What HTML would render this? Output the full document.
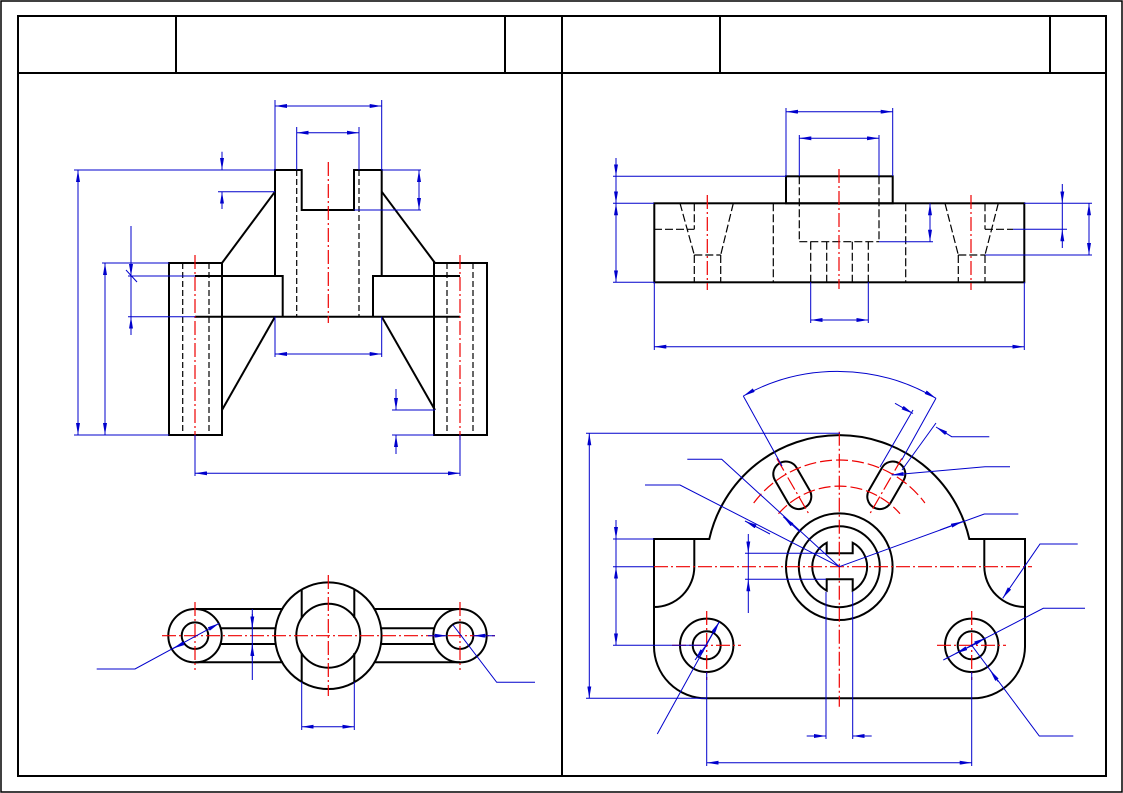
<!DOCTYPE html>
<html><head><meta charset="utf-8"><style>html,body{margin:0;padding:0;background:#fff}svg{display:block}</style></head><body>
<svg width="1123" height="793" viewBox="0 0 1123 793" xmlns="http://www.w3.org/2000/svg">
<defs>
<marker id="a" viewBox="0 0 12 4" refX="12" refY="2" markerWidth="12" markerHeight="4" markerUnits="userSpaceOnUse" orient="auto-start-reverse"><path d="M0,0 L12,2 L0,4 z" fill="#0000cc"/></marker>
</defs>
<rect x="1" y="1" width="1121" height="791" fill="none" stroke="#000" stroke-width="1.5"/>
<g stroke="#000" stroke-width="2" fill="none">
<rect x="18" y="16" width="1088" height="760"/>
<line x1="18" y1="73" x2="1106" y2="73"/>
<line x1="176" y1="16" x2="176" y2="73"/><line x1="505" y1="16" x2="505" y2="73"/>
<line x1="562" y1="16" x2="562" y2="776"/><line x1="720" y1="16" x2="720" y2="73"/><line x1="1050" y1="16" x2="1050" y2="73"/>
</g>

<g stroke="#000" stroke-width="2" fill="none">
<polyline points="275,276 275,170 301.7,170 301.7,210 354,210 354,170 381.7,170 381.7,276"/>
<polyline points="195,276 282.7,276 282.7,316.7"/>
<polyline points="460,276 373,276 373,316.7"/>
<line x1="195" y1="316.7" x2="460" y2="316.7"/>
<rect x="169" y="263" width="53" height="172"/>
<rect x="434" y="263" width="53" height="172"/>
<line x1="275" y1="191.7" x2="222" y2="263"/><line x1="381.7" y1="191.7" x2="435" y2="263"/>
<line x1="275" y1="316.7" x2="222" y2="410"/><line x1="381.7" y1="316.7" x2="435" y2="410"/>
</g>
<g stroke="#000" stroke-width="1.2" stroke-dasharray="6,3" fill="none">
<line x1="296.7" y1="170" x2="296.7" y2="316.7"/><line x1="359" y1="170" x2="359" y2="316.7"/>
<line x1="182.7" y1="263" x2="182.7" y2="435"/><line x1="209" y1="263" x2="209" y2="435"/>
<line x1="447" y1="263" x2="447" y2="435"/><line x1="473" y1="263" x2="473" y2="435"/>
</g>
<g stroke="#e00" stroke-width="1.2" stroke-dasharray="14,3,2,3" fill="none">
<line x1="328.3" y1="162" x2="328.3" y2="323"/><line x1="195" y1="255" x2="195" y2="440"/><line x1="460" y1="255" x2="460" y2="440"/>
</g>
<g stroke="#0000cc" stroke-width="1" fill="none">
<line x1="275" y1="100" x2="275" y2="170"/><line x1="381.7" y1="100" x2="381.7" y2="170"/>
<line x1="275" y1="106" x2="381.7" y2="106" marker-start="url(#a)" marker-end="url(#a)"/>
<line x1="296.7" y1="127" x2="296.7" y2="170"/><line x1="359" y1="127" x2="359" y2="170"/>
<line x1="296.7" y1="132.7" x2="359" y2="132.7" marker-start="url(#a)" marker-end="url(#a)"/>
<line x1="74" y1="170" x2="275" y2="170"/><line x1="74" y1="435" x2="169" y2="435"/>
<line x1="78" y1="170" x2="78" y2="435" marker-start="url(#a)" marker-end="url(#a)"/>
<line x1="102" y1="263" x2="169" y2="263"/>
<line x1="105" y1="263" x2="105" y2="435" marker-start="url(#a)" marker-end="url(#a)"/>
<line x1="128" y1="276" x2="195" y2="276"/><line x1="128" y1="316.7" x2="195" y2="316.7"/>
<line x1="131" y1="226" x2="131" y2="276" marker-end="url(#a)"/><line x1="131" y1="335" x2="131" y2="316.7" marker-end="url(#a)"/>
<line x1="131" y1="276" x2="131" y2="316.7"/><line x1="126" y1="270" x2="137" y2="282"/>
<line x1="218" y1="191.7" x2="275" y2="191.7"/>
<line x1="222" y1="151.7" x2="222" y2="170" marker-end="url(#a)"/><line x1="222" y1="209" x2="222" y2="191.7" marker-end="url(#a)"/>
<line x1="381.7" y1="170" x2="421" y2="170"/><line x1="354" y1="210" x2="421" y2="210"/>
<line x1="419" y1="170" x2="419" y2="210" marker-start="url(#a)" marker-end="url(#a)"/>
<line x1="275" y1="316.7" x2="275" y2="357"/><line x1="381.7" y1="316.7" x2="381.7" y2="357"/>
<line x1="275" y1="354" x2="381.7" y2="354" marker-start="url(#a)" marker-end="url(#a)"/>
<line x1="195" y1="435" x2="195" y2="476"/><line x1="460" y1="435" x2="460" y2="476"/>
<line x1="195" y1="473.3" x2="460" y2="473.3" marker-start="url(#a)" marker-end="url(#a)"/>
<line x1="392" y1="410" x2="435" y2="410"/><line x1="392" y1="435" x2="434" y2="435"/>
<line x1="396" y1="389" x2="396" y2="410" marker-end="url(#a)"/><line x1="396" y1="454" x2="396" y2="435" marker-end="url(#a)"/>
</g>

<g stroke="#000" stroke-width="2" fill="none">
<circle cx="195" cy="635.7" r="26.7"/><circle cx="195" cy="635.7" r="13.3"/>
<circle cx="460" cy="635.7" r="26.7"/><circle cx="460" cy="635.7" r="13.3"/>
<circle cx="328.3" cy="635.7" r="53.3"/><circle cx="328.3" cy="635.7" r="32"/>
<line x1="195" y1="609" x2="283" y2="609"/><line x1="195" y1="662.3" x2="283" y2="662.3"/>
<line x1="374" y1="609" x2="460" y2="609"/><line x1="374" y1="662.3" x2="460" y2="662.3"/>
<line x1="221" y1="628.3" x2="275.5" y2="628.3"/><line x1="221" y1="644" x2="275.5" y2="644"/>
<line x1="381" y1="628.3" x2="434" y2="628.3"/><line x1="381" y1="644" x2="434" y2="644"/>
<line x1="301.7" y1="589.5" x2="301.7" y2="618"/><line x1="301.7" y1="653" x2="301.7" y2="681.9"/>
<line x1="354.3" y1="589.5" x2="354.3" y2="618"/><line x1="354.3" y1="653" x2="354.3" y2="681.9"/>
</g>
<g stroke="#e00" stroke-width="1.2" stroke-dasharray="14,3,2,3" fill="none">
<line x1="162" y1="635.7" x2="495" y2="635.7"/>
<line x1="195" y1="602" x2="195" y2="670"/><line x1="460" y1="602" x2="460" y2="670"/>
<line x1="328.3" y1="575" x2="328.3" y2="696"/>
</g>
<g stroke="#0000cc" stroke-width="1" fill="none">
<line x1="252.3" y1="609" x2="252.3" y2="680"/>
<line x1="252.3" y1="614" x2="252.3" y2="628.3" marker-end="url(#a)"/><line x1="252.3" y1="660" x2="252.3" y2="644" marker-end="url(#a)"/>
<line x1="301.7" y1="682" x2="301.7" y2="730"/><line x1="354.3" y1="682" x2="354.3" y2="730"/>
<line x1="301.7" y1="726.7" x2="354.3" y2="726.7" marker-start="url(#a)" marker-end="url(#a)"/>
<polyline points="96.7,669 135,669 219.3,623.3" marker-end="url(#a)"/>
<line x1="178" y1="646" x2="173" y2="648.5" marker-end="url(#a)"/>
<polyline points="535,682.3 496.7,682.3 453,625"/>
<line x1="428" y1="635.7" x2="446.7" y2="635.7" marker-end="url(#a)"/><line x1="495" y1="635.7" x2="473.3" y2="635.7" marker-end="url(#a)"/>
</g>

<g stroke="#000" stroke-width="2" fill="none">
<rect x="654.3" y="203.3" width="370" height="79"/>
<rect x="786" y="176.3" width="106.7" height="27"/>
</g>
<g stroke="#000" stroke-width="1.2" stroke-dasharray="8,3" fill="none">
<line x1="680" y1="203.3" x2="694.3" y2="255"/><line x1="733.3" y1="203.3" x2="720.7" y2="255"/>
<line x1="694.3" y1="255" x2="720.7" y2="255"/>
<line x1="694.3" y1="255" x2="694.3" y2="282"/><line x1="720.7" y1="255" x2="720.7" y2="282"/>
<line x1="694.3" y1="203.3" x2="694.3" y2="229.3"/><line x1="654" y1="229.3" x2="694.3" y2="229.3"/>
<line x1="945" y1="203.3" x2="958.3" y2="255"/><line x1="998.3" y1="203.3" x2="985" y2="255"/>
<line x1="958.3" y1="255" x2="985" y2="255"/>
<line x1="958.3" y1="255" x2="958.3" y2="282"/><line x1="985" y1="255" x2="985" y2="282"/>
<line x1="985" y1="203.3" x2="985" y2="229.3"/><line x1="985" y1="229.3" x2="1013" y2="229.3"/>
<line x1="773.3" y1="203.3" x2="773.3" y2="282"/><line x1="905.7" y1="203.3" x2="905.7" y2="282"/>
<line x1="799.3" y1="176.3" x2="799.3" y2="241.7"/><line x1="879" y1="176.3" x2="879" y2="241.7"/>
<line x1="799.3" y1="241.7" x2="879" y2="241.7"/>
<line x1="810.7" y1="241.7" x2="810.7" y2="282"/><line x1="826.7" y1="241.7" x2="826.7" y2="282"/>
<line x1="852.3" y1="241.7" x2="852.3" y2="282"/><line x1="868.3" y1="241.7" x2="868.3" y2="282"/>
</g>
<g stroke="#e00" stroke-width="1.2" stroke-dasharray="14,3,2,3" fill="none">
<line x1="839" y1="169" x2="839" y2="289"/><line x1="707.3" y1="195" x2="707.3" y2="290"/><line x1="971" y1="195" x2="971" y2="290"/>
</g>
<g stroke="#0000cc" stroke-width="1" fill="none">
<line x1="786" y1="108" x2="786" y2="176"/><line x1="892.7" y1="108" x2="892.7" y2="176"/>
<line x1="786" y1="111.7" x2="892.7" y2="111.7" marker-start="url(#a)" marker-end="url(#a)"/>
<line x1="799.3" y1="135" x2="799.3" y2="176"/><line x1="879" y1="135" x2="879" y2="176"/>
<line x1="799.3" y1="138.3" x2="879" y2="138.3" marker-start="url(#a)" marker-end="url(#a)"/>
<line x1="613" y1="176.3" x2="786" y2="176.3"/><line x1="613" y1="203.3" x2="654" y2="203.3"/><line x1="613" y1="282.3" x2="654" y2="282.3"/>
<line x1="616" y1="158" x2="616" y2="176.3" marker-end="url(#a)"/>
<line x1="616" y1="176.3" x2="616" y2="203.3" marker-end="url(#a)"/>
<line x1="616" y1="203.3" x2="616" y2="282.3" marker-start="url(#a)" marker-end="url(#a)"/>
<line x1="879" y1="241.7" x2="933" y2="241.7"/>
<line x1="930" y1="203.3" x2="930" y2="241.7" marker-start="url(#a)" marker-end="url(#a)"/>
<line x1="1024" y1="203.3" x2="1092" y2="203.3"/><line x1="1013" y1="229.3" x2="1067" y2="229.3"/><line x1="985" y1="255" x2="1092" y2="255"/>
<line x1="1062.3" y1="184" x2="1062.3" y2="203.3" marker-end="url(#a)"/><line x1="1062.3" y1="248" x2="1062.3" y2="229.3" marker-end="url(#a)"/>
<line x1="1062.3" y1="203.3" x2="1062.3" y2="229.3"/>
<line x1="1089" y1="203.3" x2="1089" y2="255" marker-start="url(#a)" marker-end="url(#a)"/>
<line x1="810.7" y1="282" x2="810.7" y2="323"/><line x1="868.3" y1="282" x2="868.3" y2="323"/>
<line x1="810.7" y1="320" x2="868.3" y2="320" marker-start="url(#a)" marker-end="url(#a)"/>
<line x1="654.3" y1="282" x2="654.3" y2="350"/><line x1="1024.3" y1="282" x2="1024.3" y2="350"/>
<line x1="654.3" y1="346.7" x2="1024.3" y2="346.7" marker-start="url(#a)" marker-end="url(#a)"/>
</g>

<g stroke="#000" stroke-width="2" fill="none">
<path d="M654,539 L709.3,539 A133.3,133.3 0 0 1 969.3,539 L1025,539 L1025,646.7 A52,52 0 0 1 973,698.3 L706,698.3 A52,52 0 0 1 654,646.3 Z"/>
<path d="M694.3,539 L694.3,566.7 A40.3,40.3 0 0 1 654,607"/>
<path d="M984.3,539 L984.3,566.7 A40.7,40.7 0 0 0 1025,607"/>
<circle cx="839.3" cy="566.7" r="53.3"/><circle cx="839.3" cy="566.7" r="40.5"/>
<path d="M826.7,542.8 L826.7,553.3 L852.7,553.3 L852.7,542.8 A27,27 0 0 1 852.7,590.6 L852.7,579.3 L826.7,579.3 L826.7,590.6 A27,27 0 0 1 826.7,542.8 Z"/>
<g transform="translate(839.3,566.7) rotate(-30)"><rect x="-12.5" y="-119.5" width="25" height="51" rx="12.5"/></g>
<g transform="translate(839.3,566.7) rotate(30)"><rect x="-12.5" y="-119.5" width="25" height="51" rx="12.5"/></g>
<circle cx="706.7" cy="645.3" r="26.7"/><circle cx="706.7" cy="645.3" r="14"/>
<circle cx="971.7" cy="645.3" r="26.7"/><circle cx="971.7" cy="645.3" r="14"/>
</g>
<g stroke="#e00" stroke-width="1.2" stroke-dasharray="14,3,2,3" fill="none">
<line x1="839.3" y1="431.7" x2="839.3" y2="706.7"/>
<line x1="654" y1="566.7" x2="1032" y2="566.7"/>
<path d="M753.7,503 A106.7,106.7 0 0 1 924.9,503" stroke-dasharray="12,4"/>
<path d="M778.5,513.7 A80.7,80.7 0 0 1 900,513.7" stroke-dasharray="12,4"/>
<g transform="translate(839.3,566.7) rotate(-30)"><line x1="0" y1="-125" x2="0" y2="-60"/></g>
<g transform="translate(839.3,566.7) rotate(30)"><line x1="0" y1="-125" x2="0" y2="-60"/></g>
<line x1="672" y1="645.3" x2="741" y2="645.3"/><line x1="706.7" y1="611" x2="706.7" y2="680"/>
<line x1="937" y1="645.3" x2="1006" y2="645.3"/><line x1="971.7" y1="611" x2="971.7" y2="680"/>
</g>
<g stroke="#0000cc" stroke-width="1" fill="none">
<line x1="586" y1="433.3" x2="840" y2="433.3"/><line x1="586" y1="698.3" x2="706.7" y2="698.3"/>
<line x1="589.3" y1="433.3" x2="589.3" y2="698.3" marker-start="url(#a)" marker-end="url(#a)"/>
<line x1="613" y1="539" x2="654" y2="539"/><line x1="613" y1="566.7" x2="654" y2="566.7"/><line x1="613" y1="645.3" x2="706" y2="645.3"/>
<line x1="616" y1="520" x2="616" y2="539" marker-end="url(#a)"/>
<line x1="616" y1="539" x2="616" y2="566.7"/>
<line x1="616" y1="566.7" x2="616" y2="645.3" marker-start="url(#a)" marker-end="url(#a)"/>
<line x1="745" y1="553.3" x2="826" y2="553.3"/><line x1="745" y1="579.3" x2="826" y2="579.3"/>
<line x1="748.3" y1="534" x2="748.3" y2="553.3" marker-end="url(#a)"/><line x1="748.3" y1="613" x2="748.3" y2="579.3" marker-end="url(#a)"/>
<line x1="748.3" y1="553.3" x2="748.3" y2="579.3"/>
<line x1="826" y1="591.7" x2="826" y2="739"/><line x1="852.7" y1="591.7" x2="852.7" y2="739"/>
<line x1="806.7" y1="736" x2="826" y2="736" marker-end="url(#a)"/><line x1="871.7" y1="736" x2="852.7" y2="736" marker-end="url(#a)"/>
<line x1="706.7" y1="672" x2="706.7" y2="766"/><line x1="971.7" y1="672" x2="971.7" y2="766"/>
<line x1="706.7" y1="762.7" x2="971.7" y2="762.7" marker-start="url(#a)" marker-end="url(#a)"/>
<path d="M743.3,396 A193.4,193.4 0 0 1 936,398.3" marker-start="url(#a)" marker-end="url(#a)"/>
<line x1="743.3" y1="396" x2="782" y2="466"/><line x1="936" y1="398.3" x2="901.7" y2="460"/>
<line x1="880" y1="467" x2="913" y2="410"/><line x1="902" y1="470" x2="936" y2="423"/>
<line x1="895" y1="403.3" x2="913" y2="413.5" marker-end="url(#a)"/>
<polyline points="989.3,436.7 951.7,436.7 936,427" marker-end="url(#a)"/>
<polyline points="1010,466.7 985,466.7 891.7,475" marker-end="url(#a)"/>
<polyline points="645,485 680,485 839.3,566.7"/><line x1="770" y1="534" x2="745" y2="521" marker-end="url(#a)"/>
<polyline points="687.3,459.3 721.7,459.3 839.3,566.7"/><line x1="800" y1="532" x2="783.3" y2="516.7" marker-end="url(#a)"/>
<polyline points="1018.3,514 984.3,514 839.3,566.7"/><line x1="940" y1="530" x2="962.7" y2="521.5" marker-end="url(#a)"/>
<polyline points="1077.7,544 1040,544 1002.7,598.3" marker-end="url(#a)"/>
<polyline points="1085,608.3 1043.3,608.3 943.3,660"/>
<line x1="970" y1="646" x2="985.7" y2="638" marker-end="url(#a)"/><line x1="975" y1="644" x2="955.7" y2="653.5" marker-end="url(#a)"/>
<polyline points="1073.3,736 1039.3,736 971.7,645.3"/><line x1="990" y1="670" x2="998.3" y2="681.7" marker-start="url(#a)"/>
<line x1="657.3" y1="734" x2="719.3" y2="621.7"/>
<line x1="706" y1="645" x2="719.3" y2="621.7" marker-end="url(#a)"/><line x1="707" y1="644" x2="695" y2="660" marker-end="url(#a)"/>
</g>
</svg>
</body></html>
